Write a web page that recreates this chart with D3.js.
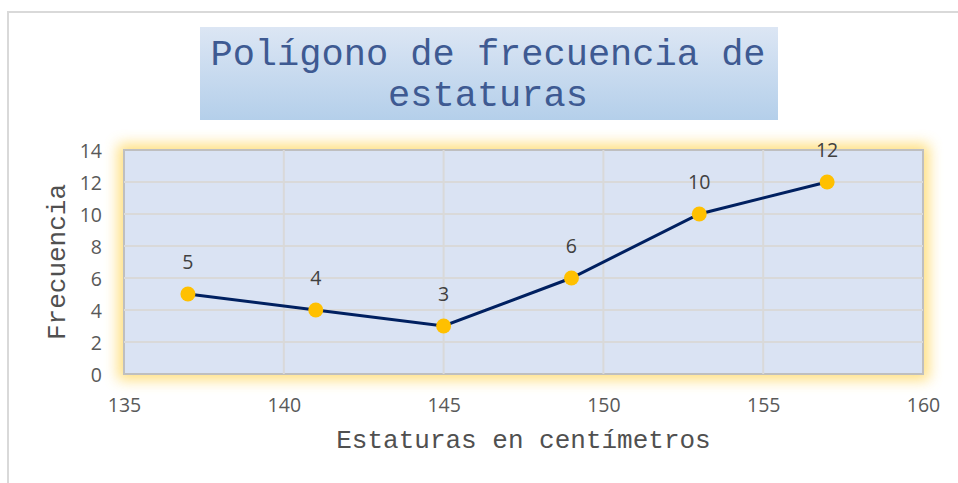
<!DOCTYPE html>
<html>
<head>
  <meta charset="utf-8">
  <script src="https://d3js.org/d3.v7.min.js"></script>
  <style>
    body { margin: 0; background: #fff; }
    .tick text { font-family: "Open Sans", sans-serif; font-size: 19.5px; fill: #595959; }
    .axis-title { font-family: "Courier New", "Nimbus Mono PS", FreeMono, "Liberation Mono", monospace; font-size: 26px; fill: #505050; }
    .label { font-family: "Open Sans", sans-serif; font-size: 19.5px; fill: #404040; }
  </style>
</head>
<body>
<script>
  var width = 958,
      height = 483;

  // data
  var estaturas = [137, 141, 145, 149, 153, 157];
  var frecuencias = [5, 4, 3, 6, 10, 12];
  var xTicks = [135, 140, 145, 150, 155, 160];
  var yTicks = [0, 2, 4, 6, 8, 10, 12, 14];
  var titleLines = ["Polígono de frecuencia de", "estaturas"];

  var plot = { left: 124, right: 923, top: 150, bottom: 374 };

  var svg = d3.select("body").append("svg")
      .attr("width", width)
      .attr("height", height);

  var defs = svg.append("defs");

  var grad = defs.append("linearGradient")
      .attr("id", "titleGrad")
      .attr("x1", 0).attr("y1", 0).attr("x2", 0).attr("y2", 1);
  grad.append("stop").attr("offset", "0%").attr("stop-color", "#dce6f4");
  grad.append("stop").attr("offset", "100%").attr("stop-color", "#b4cfea");

  var glow = defs.append("filter")
      .attr("id", "glow")
      .attr("x", "-10%").attr("y", "-20%")
      .attr("width", "120%").attr("height", "140%");
  glow.append("feGaussianBlur").attr("stdDeviation", 7);

  // outer chart border (left + top only visible)
  svg.append("path")
      .attr("d", "M8,483 L8,12 L958,12")
      .attr("fill", "none")
      .attr("stroke", "#d9d9d9")
      .attr("stroke-width", 2);

  // title box
  svg.append("rect")
      .attr("x", 200).attr("y", 27)
      .attr("width", 578).attr("height", 93)
      .attr("fill", "url(#titleGrad)");

  svg.selectAll(".title")
      .data(titleLines)
      .enter().append("text")
      .attr("class", "title")
      .attr("x", 488)
      .attr("y", function(d, i) { return 65 + i * 41; })
      .attr("text-anchor", "middle")
      .attr("font-family", "'Courier New', 'Nimbus Mono PS', FreeMono, 'Liberation Mono', monospace")
      .attr("font-size", 37)
      .attr("fill", "#3e5a92")
      .text(function(d) { return d; });

  var x = d3.scaleLinear().domain([135, 160]).range([plot.left, plot.right]);
  var y = d3.scaleLinear().domain([0, 14]).range([plot.bottom, plot.top]);

  // glow behind plot area
  svg.append("rect")
      .attr("x", plot.left - 6).attr("y", plot.top - 6)
      .attr("width", plot.right - plot.left + 12)
      .attr("height", plot.bottom - plot.top + 12)
      .attr("fill", "#ffd966")
      .attr("opacity", 0.85)
      .attr("filter", "url(#glow)");

  svg.append("rect")
      .attr("x", plot.left).attr("y", plot.top)
      .attr("width", plot.right - plot.left)
      .attr("height", plot.bottom - plot.top)
      .attr("fill", "#dae3f3")
      .attr("stroke", "#bfbfbf")
      .attr("stroke-width", 2);

  // gridlines
  svg.append("g")
      .selectAll("line")
      .data(yTicks.slice(1, -1))
      .enter().append("line")
      .attr("x1", plot.left).attr("x2", plot.right)
      .attr("y1", function(d) { return y(d); })
      .attr("y2", function(d) { return y(d); })
      .attr("stroke", "#d9d9d9")
      .attr("stroke-width", 2);

  svg.append("g")
      .selectAll("line")
      .data(xTicks.slice(1, -1))
      .enter().append("line")
      .attr("y1", plot.top).attr("y2", plot.bottom)
      .attr("x1", function(d) { return x(d); })
      .attr("x2", function(d) { return x(d); })
      .attr("stroke", "#d9d9d9")
      .attr("stroke-width", 2);

  // axes
  var xAxis = svg.append("g")
      .attr("transform", "translate(0," + plot.bottom + ")")
      .call(d3.axisBottom(x).tickValues(xTicks).tickSize(0));
  xAxis.select(".domain").remove();
  xAxis.selectAll(".tick text").attr("y", 38).attr("dy", null);

  var yAxis = svg.append("g")
      .attr("transform", "translate(" + plot.left + ",0)")
      .call(d3.axisLeft(y).tickValues(yTicks).tickSize(0).tickPadding(22));
  yAxis.select(".domain").remove();
  yAxis.selectAll(".tick text").attr("y", 7).attr("dy", null);

  svg.append("text")
      .attr("class", "axis-title")
      .attr("x", (plot.left + plot.right) / 2)
      .attr("y", 448)
      .attr("text-anchor", "middle")
      .text("Estaturas en centímetros");

  svg.append("text")
      .attr("class", "axis-title")
      .attr("transform", "translate(65," + (plot.top + plot.bottom) / 2 + ") rotate(-90)")
      .attr("text-anchor", "middle")
      .text("Frecuencia");

  // line + markers
  var pts = estaturas.map(function(d, i) { return [d, frecuencias[i]]; });

  svg.append("path")
      .datum(pts)
      .attr("fill", "none")
      .attr("stroke", "#002060")
      .attr("stroke-width", 3)
      .attr("d", d3.line()
        .x(function(d) { return x(d[0]); })
        .y(function(d) { return y(d[1]); }));

  svg.selectAll(".pt")
      .data(pts)
      .enter().append("circle")
      .attr("class", "pt")
      .attr("cx", function(d) { return x(d[0]); })
      .attr("cy", function(d) { return y(d[1]); })
      .attr("r", 7.5)
      .attr("fill", "#ffc000");

  svg.selectAll(".label")
      .data(pts)
      .enter().append("text")
      .attr("class", "label")
      .attr("x", function(d) { return x(d[0]); })
      .attr("y", function(d) { return y(d[1]) - 25; })
      .attr("text-anchor", "middle")
      .text(function(d) { return d[1]; });
</script>
</body>
</html>
